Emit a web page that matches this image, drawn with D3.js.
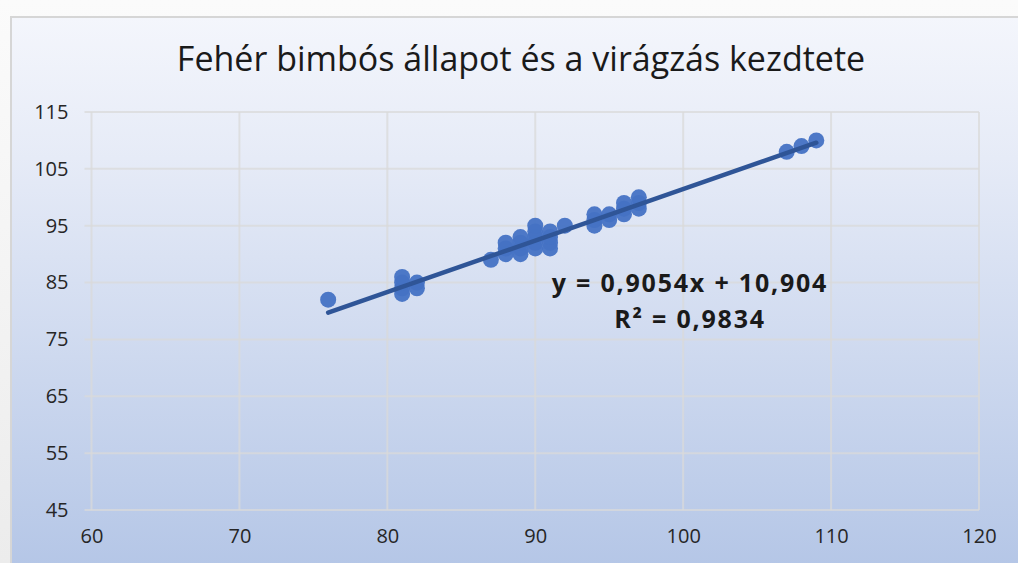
<!DOCTYPE html>
<html>
<head>
<meta charset="utf-8">
<script src="https://cdn.jsdelivr.net/npm/d3@7"></script>
<style>
  html, body { margin: 0; padding: 0; background: #f4f4f4; }
  svg { display: block; }
</style>
</head>
<body>
<div id="chart"></div>
<script>
// data (days)
var xValues = [76, 81, 81, 81, 81, 82, 82, 87, 88, 88, 88, 89, 89, 89, 89,
               90, 90, 90, 90, 90, 91, 91, 91, 91, 92, 94, 94, 94, 95, 95,
               96, 96, 96, 97, 97, 97, 107, 108, 109];
var yValues = [82, 83, 84, 85, 86, 84, 85, 89, 90, 91, 92, 90, 91, 92, 93,
               91, 92, 93, 94, 95, 91, 92, 93, 94, 95, 95, 96, 97, 96, 97,
               97, 98, 99, 98, 99, 100, 108, 109, 110];
var xTicks = [60, 70, 80, 90, 100, 110, 120];
var yTicks = [45, 55, 65, 75, 85, 95, 105, 115];
var slope = 0.9054, intercept = 10.904;
var titleText = "Fehér bimbós állapot és a virágzás kezdtete";
var eqLines = ["y = 0,9054x + 10,904", "R² = 0,9834"];

var points = xValues.map((x, i) => ({x: x, y: yValues[i]}));

var width = 1018, height = 563;
var margin = {top: 112, right: 39, bottom: 53, left: 91.5};

var svg = d3.select('#chart').append('svg')
    .attr('width', width)
    .attr('height', height);

var defs = svg.append('defs');
var grad = defs.append('linearGradient')
    .attr('id', 'bg')
    .attr('x1', 0).attr('y1', 0).attr('x2', 0).attr('y2', 1);
grad.append('stop').attr('offset', '0%').attr('stop-color', '#f4f6fc');
grad.append('stop').attr('offset', '25%').attr('stop-color', '#e6ebf7');
grad.append('stop').attr('offset', '100%').attr('stop-color', '#b3c5e6');

var outer = defs.append('linearGradient')
    .attr('id', 'outer')
    .attr('x1', 0).attr('y1', 0).attr('x2', 0).attr('y2', 1);
outer.append('stop').attr('offset', '0%').attr('stop-color', '#fbfbfb');
outer.append('stop').attr('offset', '100%').attr('stop-color', '#ececec');

// page + chart panel
svg.append('rect').attr('width', width).attr('height', height).attr('fill', 'url(#outer)');
svg.append('rect')
    .attr('x', 11).attr('y', 17)
    .attr('width', width).attr('height', height)
    .attr('fill', 'url(#bg)')
    .attr('stroke', '#d6d6d6')
    .attr('stroke-width', 2);

var chartWidth = width - margin.left - margin.right;
var chartHeight = height - margin.top - margin.bottom;

var xScale = d3.scaleLinear().domain([60, 120]).range([0, chartWidth]);
var yScale = d3.scaleLinear().domain([45, 115]).range([chartHeight, 0]);

var g = svg.append('g')
    .attr('transform', `translate(${margin.left}, ${margin.top})`);

// gridlines
g.append('g')
  .selectAll('line')
  .data(yTicks)
  .join('line')
    .attr('x1', -7).attr('x2', chartWidth)
    .attr('y1', d => yScale(d)).attr('y2', d => yScale(d))
    .attr('stroke', '#d9d9d9')
    .attr('stroke-opacity', 0.75)
    .attr('stroke-width', 2);

g.append('g')
  .selectAll('line')
  .data(xTicks)
  .join('line')
    .attr('x1', d => xScale(d)).attr('x2', d => xScale(d))
    .attr('y1', 0).attr('y2', chartHeight)
    .attr('stroke', '#d9d9d9')
    .attr('stroke-opacity', 0.75)
    .attr('stroke-width', 2);

// axes (labels only, lines drawn as grid)
var xAxis = d3.axisBottom(xScale).tickValues(xTicks).tickSize(0).tickPadding(19);
var yAxis = d3.axisLeft(yScale).tickValues(yTicks).tickSize(0).tickPadding(23);

g.append('g')
    .attr('class', 'x axis')
    .attr('transform', `translate(0,${chartHeight})`)
    .call(xAxis)
    .call(s => s.select('.domain').remove())
    .selectAll('text')
        .style('font-family', 'Open Sans, sans-serif')
        .style('font-size', '20px')
        .attr('fill', '#262626');

g.append('g')
    .attr('class', 'y axis')
    .call(yAxis)
    .call(s => s.select('.domain').remove())
    .selectAll('text')
        .style('font-family', 'Open Sans, sans-serif')
        .style('font-size', '20px')
        .attr('fill', '#262626');

// points
g.append('g')
  .selectAll('circle')
  .data(points)
  .join('circle')
    .attr('cx', d => xScale(d.x))
    .attr('cy', d => yScale(d.y))
    .attr('r', 8)
    .attr('fill', '#4472c4')
    .attr('fill-opacity', 0.95);

// trend line
var xExt = d3.extent(xValues);
g.append('line')
    .attr('x1', xScale(xExt[0]))
    .attr('y1', yScale(slope * xExt[0] + intercept))
    .attr('x2', xScale(xExt[1]))
    .attr('y2', yScale(slope * xExt[1] + intercept))
    .attr('stroke', '#2f5597')
    .attr('stroke-width', 4.5)
    .attr('stroke-linecap', 'round');

// equation label
g.append('g')
  .selectAll('text')
  .data(eqLines)
  .join('text')
    .attr('x', 690 - margin.left)
    .attr('y', (d, i) => 292 - margin.top + i * 36)
    .attr('text-anchor', 'middle')
    .style('font-family', 'Open Sans, sans-serif')
    .style('font-weight', 'bold')
    .style('font-size', '25px')
    .style('letter-spacing', '1.8px')
    .attr('fill', '#1a1a1a')
    .text(d => d);

// title
svg.append('text')
    .attr('x', 521)
    .attr('y', 71)
    .attr('text-anchor', 'middle')
    .style('font-family', 'Open Sans, sans-serif')
    .style('font-size', '34px')
    .attr('fill', '#1a1a1a')
    .text(titleText);
</script>
</body>
</html>
